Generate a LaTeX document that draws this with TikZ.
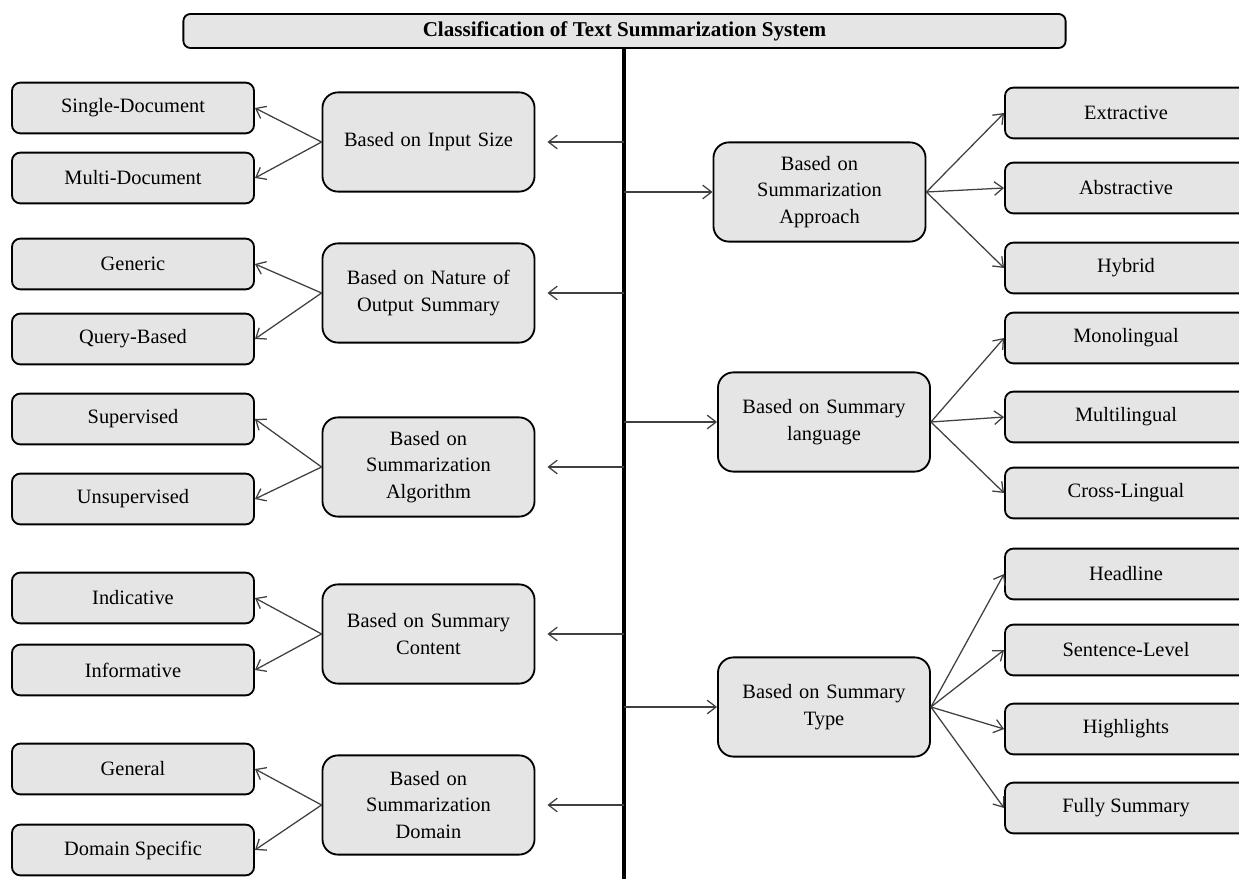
\documentclass[tikz,border=0pt]{standalone}
\usepackage{fontspec}
\setmainfont{Liberation Serif}
\usetikzlibrary{arrows.meta}
\begin{document}
\begin{tikzpicture}[x=0.025cm,y=-0.025cm,
  every node/.style={font=\fontsize{14.5}{18.8}\selectfont},
  leaf/.style={draw=black, line width=1.3pt, fill=black!10, rounded corners=6pt,
    minimum width=6.05cm, minimum height=1.27cm, inner sep=0pt, align=center},
  mid/.style={draw=black, line width=1.3pt, fill=black!10, rounded corners=11pt,
    minimum width=5.3cm, minimum height=2.48cm, inner sep=2pt, text width=5.0cm, align=center},
  conn/.style={draw=black!75, line width=0.9pt, -{Straight Barb[length=2.2mm,width=3.4mm]}},
  spine/.style={line width=2.8pt, black}]
\useasboundingbox (0,0) rectangle (1239,879);
\clip (0,0) rectangle (1239,879);
% title
\node[draw=black, line width=1.3pt, fill=black!10, rounded corners=5pt,
  minimum width=22.05cm, minimum height=0.85cm, inner sep=0pt,
  font=\fontsize{15}{18}\selectfont\bfseries] (title) at (624.5,31) {Classification of Text Summarization System};
\coordinate (top) at (624,48);
\coordinate (bot) at (624,879);
\draw[spine] (top) -- (bot);
% spine points
\coordinate (s1) at (624,142);
\coordinate (s2) at (624,293);
\coordinate (s3) at (624,467);
\coordinate (s4) at (624,634);
\coordinate (s5) at (624,805);
\coordinate (r1) at (624,192);
\coordinate (r2) at (624,422);
\coordinate (r3) at (624,707);
% left mid boxes
\node[mid] (m1) at (428.5,142) {Based on Input Size};
\node[mid] (m2) at (428.5,293) {Based on Nature of\\Output Summary};
\node[mid] (m3) at (428.5,467) {Based on\\Summarization\\Algorithm};
\node[mid] (m4) at (428.5,634) {Based on Summary\\Content};
\node[mid] (m5) at (428.5,805) {Based on\\Summarization\\Domain};
% left leaves
\node[leaf] (l1) at (133,108) {Single-Document};
\node[leaf] (l2) at (133,178) {Multi-Document};
\node[leaf] (l3) at (133,264) {Generic};
\node[leaf] (l4) at (133,339) {Query-Based};
\node[leaf] (l5) at (133,419) {Supervised};
\node[leaf] (l6) at (133,499) {Unsupervised};
\node[leaf] (l7) at (133,598) {Indicative};
\node[leaf] (l8) at (133,670) {Informative};
\node[leaf] (l9) at (133,769) {General};
\node[leaf] (l10) at (133,850) {Domain Specific};
% right mid boxes
\node[mid] (n1) at (819.5,192) {Based on\\Summarization\\Approach};
\node[mid] (n2) at (824,422) {Based on Summary\\language};
\node[mid] (n3) at (824,707) {Based on Summary\\Type};
% right leaves
\node[leaf] (e1) at (1126,113) {Extractive};
\node[leaf] (e2) at (1126,188) {Abstractive};
\node[leaf] (e3) at (1126,268) {Hybrid};
\node[leaf] (e4) at (1126,338) {Monolingual};
\node[leaf] (e5) at (1126,417) {Multilingual};
\node[leaf] (e6) at (1126,493) {Cross-Lingual};
\node[leaf] (e7) at (1126,574) {Headline};
\node[leaf] (e8) at (1126,650) {Sentence-Level};
\node[leaf] (e9) at (1126,729) {Highlights};
\node[leaf] (e10) at (1126,808) {Fully Summary};
% spine connectors left
\foreach \s/\m in {s1/m1,s2/m2,s3/m3,s4/m4,s5/m5}
  \draw[conn, shorten >=12*0.025cm] (\s) -- (\m.east);
% spine connectors right
\foreach \s/\m in {r1/n1,r2/n2,r3/n3}
  \draw[conn] (\s) -- (\m.west);
% left branches
\foreach \m/\a/\b in {m1/l1/l2,m2/l3/l4,m3/l5/l6,m4/l7/l8,m5/l9/l10}{
  \draw[conn] (\m.west) -- (\a.east);
  \draw[conn] (\m.west) -- (\b.east);
}
% right branches
\foreach \e in {e1,e2,e3}
  \draw[conn] (n1.east) -- (\e.west);
\foreach \e in {e4,e5,e6}
  \draw[conn] (n2.east) -- (\e.west);
\foreach \e in {e7,e8,e9,e10}
  \draw[conn] (n3.east) -- (\e.west);
\end{tikzpicture}
\end{document}
